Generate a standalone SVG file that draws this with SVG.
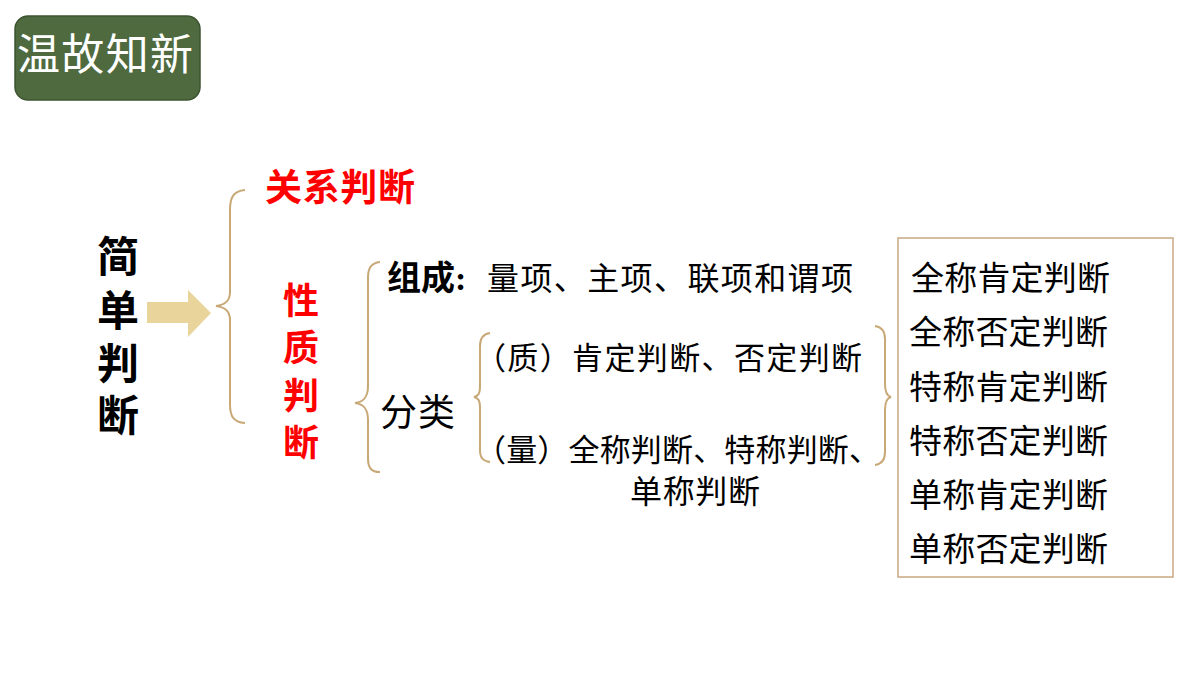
<svg xmlns="http://www.w3.org/2000/svg" width="1200" height="675" viewBox="0 0 1200 675">
<style>
text{font-family:"Liberation Serif","Noto Sans CJK SC",serif;fill:#000}
.red{fill:#ff0000}
.b{font-weight:bold}
.brace{fill:none;stroke:#c9a877;stroke-width:2}
</style>
<rect width="1200" height="675" fill="#ffffff"/>
<g id="title">
<rect x="15" y="16" width="185" height="84" rx="13" fill="#4f6a3f" stroke="#3d5431" stroke-width="1.5"/>
<text x="17" y="70" font-size="43" style="fill:#ffffff" textLength="176">温故知新</text>
</g>
<g id="simple">
<text class="b" x="97" y="272" font-size="42">简</text>
<text class="b" x="97" y="326" font-size="42">单</text>
<text class="b" x="97" y="379" font-size="42">判</text>
<text class="b" x="97" y="431" font-size="42">断</text>
</g>
<g id="connectors">
<polygon points="147,302 188,302 188,290 211,313 188,337 188,323 147,323" fill="#e9d59c"/>
<path class="brace" d="M245,190 C233,191 230,198 230,210 L230,292 C230,302 224,305 216,306 C224,307 230,310 230,320 L230,404 C230,416 233,422 245,423"/>
<path class="brace" d="M380,262 C371,263 368,268 368,278 L368,386 C368,398 363,402 355,403 C363,404 368,408 368,420 L368,458 C368,468 371,472 380,472"/>
<path class="brace" d="M490,333 C483,334 480,338 480,346 L480,386 C480,394 478,396 474,397 C478,398 480,400 480,408 L480,450 C480,458 483,461 490,462"/>
<path class="brace" d="M875,326 C882,327 885,331 885,339 L885,384 C885,393 887,396 891,397 C887,398 885,401 885,410 L885,452 C885,460 882,464 875,465"/>
</g>
<g id="relation">
<text class="red b" x="265" y="201" font-size="37" textLength="150">关系判断</text>
</g>
<g id="nature">
<text class="red b" x="283" y="314" font-size="36">性</text>
<text class="red b" x="283" y="361" font-size="36">质</text>
<text class="red b" x="283" y="409" font-size="36">判</text>
<text class="red b" x="283" y="456" font-size="36">断</text>
</g>
<g id="composition">
<text class="b" x="387" y="290" font-size="34">组成:</text>
<text x="487" y="290" font-size="32" textLength="366">量项、主项、联项和谓项</text>
</g>
<g id="classify">
<text x="380" y="426" font-size="37" textLength="75">分类</text>
</g>
<g id="quality">
<text x="475" y="369" font-size="31" textLength="387">（质）肯定判断、否定判断</text>
</g>
<g id="quantity">
<text x="475" y="461" font-size="31" textLength="405">（量）全称判断、特称判断、</text>
<text x="630" y="503" font-size="32" textLength="130">单称判断</text>
</g>
<g id="types">
<rect x="898" y="238" width="275" height="339" fill="none" stroke="#c9a882" stroke-width="1.5"/>
<text x="911" y="290" font-size="33" textLength="199">全称肯定判断</text>
<text x="909" y="344" font-size="33" textLength="199">全称否定判断</text>
<text x="909" y="399" font-size="33" textLength="199">特称肯定判断</text>
<text x="909" y="453" font-size="33" textLength="199">特称否定判断</text>
<text x="909" y="507" font-size="33" textLength="199">单称肯定判断</text>
<text x="909" y="561" font-size="33" textLength="199">单称否定判断</text>
</g>
</svg>
